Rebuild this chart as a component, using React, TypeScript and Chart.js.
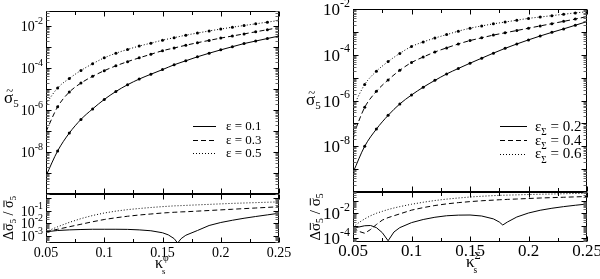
import React, { useEffect, useRef } from "react";
import { Chart, registerables } from "chart.js";
Chart.register(...registerables);

const FONT = '"Liberation Serif", "Times New Roman", serif';
const W = 600;
const H = 279;

// ---------- tick labels ----------
const X_TICKS = [0.05, 0.1, 0.15, 0.2, 0.25];
const X_TICK_TEXT = ["0.05", "0.1", "0.15", "0.2", "0.25"];
const X_TICK_ALL = [0.05, 0.075, 0.1, 0.125, 0.15, 0.175, 0.2, 0.225, 0.25];
const LT_Y_LABEL_EXP = [-2, -4, -6, -8];
const LB_Y_LABEL_EXP = [-1, -2, -3];
const RT_Y_LABEL_EXP = [-2, -4, -6, -8];
const RB_Y_LABEL_EXP = [-2, -4];

// ---------- data (values read as log10 decades from the log axes) ----------
const X_TOP = [0.05, 0.06, 0.07, 0.08, 0.09, 0.1, 0.11, 0.12, 0.13, 0.14, 0.15, 0.16, 0.17, 0.18, 0.19, 0.2, 0.21, 0.22, 0.23, 0.24, 0.25];

// left top: sigma5 for eps = 0.1, 0.3, 0.5
const LT_EPS01 = [-9.14, -7.95, -7.1, -6.45, -5.95, -5.5, -5.12, -4.8, -4.53, -4.3, -4.08, -3.85, -3.66, -3.47, -3.3, -3.14, -2.99, -2.84, -2.72, -2.6, -2.48];
const LT_EPS03 = [-7.03, -5.85, -5.15, -4.72, -4.4, -4.13, -3.9, -3.7, -3.52, -3.35, -3.18, -3.05, -2.92, -2.8, -2.69, -2.58, -2.48, -2.38, -2.28, -2.18, -2.08];
const LT_EPS05 = [-5.71, -4.95, -4.5, -4.12, -3.8, -3.52, -3.3, -3.12, -2.96, -2.82, -2.68, -2.56, -2.44, -2.34, -2.24, -2.15, -2.06, -1.98, -1.9, -1.82, -1.74];

// right top: sigma5 for eps_Sigma = 0.2, 0.4, 0.6
const RT_EPS02 = [-9.15, -8.0, -7.25, -6.65, -6.15, -5.76, -5.42, -5.12, -4.84, -4.6, -4.37, -4.15, -3.93, -3.72, -3.53, -3.35, -3.18, -3.02, -2.87, -2.71, -2.55];
const RT_EPS04 = [-7.55, -6.3, -5.6, -5.1, -4.68, -4.34, -4.1, -3.88, -3.7, -3.53, -3.38, -3.26, -3.14, -3.04, -2.94, -2.84, -2.74, -2.64, -2.54, -2.44, -2.33];
const RT_EPS06 = [-6.29, -5.3, -4.72, -4.3, -3.94, -3.64, -3.44, -3.27, -3.12, -2.97, -2.84, -2.74, -2.65, -2.57, -2.49, -2.41, -2.35, -2.29, -2.23, -2.17, -2.12];

// left bottom: relative deviation
const X_BL = [0.05, 0.06, 0.07, 0.08, 0.09, 0.1, 0.11, 0.12, 0.13, 0.14, 0.15, 0.155, 0.16, 0.163, 0.166, 0.17, 0.18, 0.19, 0.2, 0.21, 0.22, 0.23, 0.24, 0.25];
const LB_EPS01 = [-2.7, -2.6, -2.55, -2.52, -2.5, -2.5, -2.5, -2.51, -2.55, -2.62, -2.78, -2.95, -3.25, -3.6, -3.25, -2.98, -2.6, -2.2, -1.96, -1.78, -1.62, -1.48, -1.35, -1.22];
const LB_EPS03 = [-2.7, -2.5, -2.3, -2.1, -1.9, -1.72, -1.58, -1.46, -1.36, -1.28, -1.2, -1.17, -1.14, -1.13, -1.11, -1.1, -1.05, -1.0, -0.95, -0.9, -0.85, -0.8, -0.75, -0.7];
const LB_EPS05 = [-2.7, -2.3, -1.95, -1.65, -1.4, -1.2, -1.05, -0.93, -0.84, -0.76, -0.69, -0.66, -0.63, -0.62, -0.61, -0.59, -0.55, -0.51, -0.47, -0.43, -0.4, -0.37, -0.34, -0.31];

// right bottom: relative deviation
const X_BR = [0.05, 0.055, 0.06, 0.065, 0.07, 0.075, 0.08, 0.085, 0.09, 0.1, 0.11, 0.12, 0.13, 0.14, 0.15, 0.16, 0.17, 0.175, 0.178, 0.182, 0.19, 0.2, 0.21, 0.22, 0.23, 0.24, 0.25];
const RB_EPS02 = [-3.2, -3.1, -3.0, -2.98, -3.15, -3.55, -4.2, -3.5, -3.15, -2.75, -2.5, -2.32, -2.2, -2.15, -2.14, -2.22, -2.45, -2.7, -2.94, -2.7, -2.3, -1.98, -1.76, -1.6, -1.47, -1.36, -1.26];
const RB_EPS04 = [-3.15, -3.45, -3.6, -3.3, -2.9, -2.55, -2.35, -2.2, -2.05, -1.75, -1.55, -1.38, -1.25, -1.15, -1.07, -1.0, -0.95, -0.92, -0.91, -0.89, -0.86, -0.82, -0.78, -0.75, -0.72, -0.69, -0.66];
const RB_EPS06 = [-3.1, -2.75, -2.45, -2.2, -2.0, -1.85, -1.7, -1.58, -1.47, -1.28, -1.12, -0.98, -0.87, -0.78, -0.7, -0.64, -0.59, -0.57, -0.56, -0.55, -0.53, -0.5, -0.48, -0.46, -0.44, -0.42, -0.4];

const LEFT_LEGEND = ["0.1", "0.3", "0.5"];
const RIGHT_LEGEND = ["0.2", "0.4", "0.6"];

const DASH_SOLID: number[] = [];
const DASH_DASHED = [5, 3];
const DASH_DOTTED = [1, 2];
const DASHES = [DASH_SOLID, DASH_DASHED, DASH_DOTTED];

type Ctx = CanvasRenderingContext2D;

// ---------- drawing helpers ----------
function setFont(ctx: Ctx, size: number) {
  ctx.font = `${size}px ${FONT}`;
}

function drawPow10(ctx: Ctx, exp: number, xRight: number, yMid: number, fs: number, ss: number) {
  const e = String(exp);
  setFont(ctx, fs);
  const w1 = ctx.measureText("10").width;
  setFont(ctx, ss);
  const w2 = ctx.measureText(e).width;
  const x0 = xRight - w1 - w2;
  const base = yMid + fs * 0.36;
  ctx.textAlign = "left";
  ctx.textBaseline = "alphabetic";
  setFont(ctx, fs);
  ctx.fillText("10", x0, base);
  setFont(ctx, ss);
  ctx.fillText(e, x0 + w1, base - fs * 0.5);
}

function sigmaWidth(ctx: Ctx, fs: number) {
  setFont(ctx, fs);
  const w = ctx.measureText("σ").width;
  setFont(ctx, fs * 0.65);
  return w + ctx.measureText("5").width;
}

function drawSigma(ctx: Ctx, x: number, base: number, fs: number, mark: "tilde" | "bar") {
  ctx.textAlign = "left";
  ctx.textBaseline = "alphabetic";
  setFont(ctx, fs);
  ctx.fillText("σ", x, base);
  const w = ctx.measureText("σ").width;
  if (mark === "tilde") {
    setFont(ctx, fs * 0.75);
    ctx.textAlign = "center";
    ctx.fillText("~", x + w / 2 + 1, base - fs * 0.5);
    ctx.textAlign = "left";
  } else {
    ctx.fillRect(x + 1, base - fs * 0.68, w - 1, 1);
  }
  setFont(ctx, fs * 0.65);
  ctx.fillText("5", x + w, base + fs * 0.22);
  return w + ctx.measureText("5").width;
}

function drawRotatedLabel(ctx: Ctx, cx: number, cy: number, fs: number) {
  ctx.save();
  ctx.translate(cx, cy);
  ctx.rotate(-Math.PI / 2);
  setFont(ctx, fs);
  const wD = ctx.measureText("Δ").width;
  const wS = ctx.measureText(" / ").width;
  const ws = sigmaWidth(ctx, fs);
  const total = wD + ws + wS + ws;
  let x = -total / 2;
  const base = 0;
  setFont(ctx, fs);
  ctx.textAlign = "left";
  ctx.textBaseline = "alphabetic";
  ctx.fillText("Δ", x, base);
  x += wD;
  x += drawSigma(ctx, x, base, fs, "bar");
  setFont(ctx, fs);
  ctx.fillText(" / ", x, base);
  x += wS;
  drawSigma(ctx, x, base, fs, "bar");
  ctx.restore();
}

function drawKappa(ctx: Ctx, x: number, base: number, fs: number, sup: string) {
  ctx.textAlign = "left";
  ctx.textBaseline = "alphabetic";
  setFont(ctx, fs);
  ctx.fillText("κ", x, base);
  const w = ctx.measureText("κ").width;
  setFont(ctx, fs * 0.62);
  ctx.fillText(sup, x + w, base - fs * 0.45);
  setFont(ctx, fs * 0.55);
  ctx.fillText("s", x + w - 1, base + fs * 0.35);
}

function drawLegend(ctx: Ctx, labels: string[], x0: number, x1: number, tx: number, ys: number[], fs: number, sub: boolean) {
  labels.forEach((lab, i) => {
    const y = Math.round(ys[i]) + 0.5;
    ctx.save();
    ctx.setLineDash(DASHES[i]);
    ctx.lineWidth = 1;
    ctx.beginPath();
    ctx.moveTo(x0, y);
    ctx.lineTo(x1, y);
    ctx.stroke();
    ctx.restore();
    ctx.textAlign = "left";
    ctx.textBaseline = "alphabetic";
    const base = ys[i] + fs * 0.33;
    setFont(ctx, fs);
    ctx.fillText("ε", tx, base);
    let x = tx + ctx.measureText("ε").width;
    if (sub) {
      setFont(ctx, fs * 0.62);
      ctx.fillText("Σ", x, base + fs * 0.3);
      x += ctx.measureText("Σ").width;
    }
    setFont(ctx, fs);
    ctx.fillText(" = " + lab, x, base);
  });
}

type Spec = {
  area: { l: number; t: number; r: number; b: number };
  yMin: number;
  yMax: number;
  xs: number[];
  series: number[][];
  points: boolean;
  smooth: boolean;
  yLabels: number[];
  fs: number;
  ss: number;
  xLabels: boolean;
  extra: (ctx: Ctx) => void;
};

function makeDecor(spec: Spec) {
  return {
    id: "decor",
    afterDatasetsDraw(chart: any) {
      const ctx: Ctx = chart.ctx;
      const a = chart.chartArea;
      const xs = chart.scales.x;
      const ys = chart.scales.y;
      ctx.save();
      ctx.strokeStyle = "#000";
      ctx.fillStyle = "#000";
      ctx.lineWidth = 1;
      ctx.setLineDash([]);
      const L = Math.round(a.left) + 0.5;
      const R = Math.round(a.right) - 0.5;
      const T = Math.round(a.top) + 0.5;
      const B = Math.round(a.bottom) - 0.5;
      ctx.strokeRect(L, T, R - L, B - T);

      X_TICK_ALL.forEach((v, i) => {
        const px = Math.round(xs.getPixelForValue(v)) + 0.5;
        const len = i % 2 === 0 ? 5 : 3.5;
        ctx.beginPath();
        ctx.moveTo(px, B);
        ctx.lineTo(px, B - len);
        ctx.moveTo(px, T);
        ctx.lineTo(px, T + len);
        ctx.stroke();
      });

      const lo = Math.floor(Math.log10(spec.yMin));
      const hi = Math.ceil(Math.log10(spec.yMax));
      for (let n = lo; n <= hi; n++) {
        for (let k = 1; k <= 9; k++) {
          const v = k * Math.pow(10, n);
          if (v < spec.yMin || v > spec.yMax) continue;
          const py = Math.round(ys.getPixelForValue(v)) + 0.5;
          const len = k === 1 ? 5 : 3;
          ctx.strokeStyle = k === 1 ? "#000" : "#666";
          ctx.beginPath();
          ctx.moveTo(L, py);
          ctx.lineTo(L + len, py);
          ctx.moveTo(R, py);
          ctx.lineTo(R - len, py);
          ctx.stroke();
        }
      }
      ctx.strokeStyle = "#000";

      spec.yLabels.forEach((e) => {
        drawPow10(ctx, e, a.left - 3, ys.getPixelForValue(Math.pow(10, e)), spec.fs, spec.ss);
      });

      if (spec.xLabels) {
        setFont(ctx, spec.fs);
        ctx.textAlign = "center";
        ctx.textBaseline = "middle";
        X_TICKS.forEach((v, i) => {
          ctx.fillText(X_TICK_TEXT[i], xs.getPixelForValue(v), a.bottom + 10);
        });
      }

      spec.extra(ctx);
      ctx.restore();
    },
  };
}

function buildConfig(spec: Spec): any {
  return {
    type: "line",
    data: {
      datasets: spec.series.map((vals, i) => ({
        data: spec.xs.map((x, j) => ({ x, y: Math.pow(10, vals[j]) })),
        borderColor: "#000",
        backgroundColor: "#000",
        borderWidth: 1,
        borderDash: DASHES[i],
        pointRadius: spec.points ? 1.5 : 0,
        pointBorderWidth: 0,
        pointBackgroundColor: "#000",
        cubicInterpolationMode: spec.smooth ? "monotone" : "default",
        tension: 0,
        fill: false,
      })),
    },
    options: {
      responsive: false,
      animation: false,
      devicePixelRatio: 1,
      events: [],
      layout: {
        padding: { left: spec.area.l, top: spec.area.t, right: W - spec.area.r, bottom: H - spec.area.b },
      },
      plugins: { legend: { display: false }, tooltip: { enabled: false } },
      scales: {
        x: { type: "linear", min: 0.05, max: 0.25, display: false },
        y: { type: "logarithmic", min: spec.yMin, max: spec.yMax, display: false },
      },
    },
    plugins: [makeDecor(spec)],
  };
}

const SPECS: Spec[] = [
  {
    area: { l: 46, t: 11, r: 279, b: 194 },
    yMin: 1e-10,
    yMax: Math.pow(10, -1.29),
    xs: X_TOP,
    series: [LT_EPS01, LT_EPS03, LT_EPS05],
    points: true,
    smooth: true,
    yLabels: LT_Y_LABEL_EXP,
    fs: 14,
    ss: 10,
    xLabels: false,
    extra: (ctx) => {
      drawSigma(ctx, 4, 103, 17, "tilde");
      drawLegend(ctx, LEFT_LEGEND, 193, 216, 226, [126, 139.5, 153], 13, false);
    },
  },
  {
    area: { l: 46, t: 194, r: 279, b: 243 },
    yMin: Math.pow(10, -3.6),
    yMax: Math.pow(10, 0.32),
    xs: X_BL,
    series: [LB_EPS01, LB_EPS03, LB_EPS05],
    points: false,
    smooth: false,
    yLabels: LB_Y_LABEL_EXP,
    fs: 14,
    ss: 10,
    xLabels: true,
    extra: (ctx) => {
      drawRotatedLabel(ctx, 13, 218, 14);
      drawKappa(ctx, 155, 268, 16, "φ");
    },
  },
  {
    area: { l: 353, t: 9, r: 587, b: 192 },
    yMin: 1e-10,
    yMax: 1e-2,
    xs: X_TOP,
    series: [RT_EPS02, RT_EPS04, RT_EPS06],
    points: true,
    smooth: true,
    yLabels: RT_Y_LABEL_EXP,
    fs: 17,
    ss: 12,
    xLabels: false,
    extra: (ctx) => {
      drawSigma(ctx, 306, 105, 17, "tilde");
      drawLegend(ctx, RIGHT_LEGEND, 500, 527, 535, [126, 140, 153.5], 15, true);
    },
  },
  {
    area: { l: 353, t: 192, r: 587, b: 242 },
    yMin: Math.pow(10, -4.3),
    yMax: Math.pow(10, -0.3),
    xs: X_BR,
    series: [RB_EPS02, RB_EPS04, RB_EPS06],
    points: false,
    smooth: false,
    yLabels: RB_Y_LABEL_EXP,
    fs: 17,
    ss: 12,
    xLabels: true,
    extra: (ctx) => {
      drawRotatedLabel(ctx, 320, 217, 15);
      drawKappa(ctx, 466, 267, 17, "Σ");
    },
  },
];

function PanelCanvas({ spec }: { spec: Spec }) {
  const ref = useRef<HTMLCanvasElement>(null);
  useEffect(() => {
    const c = ref.current;
    if (!c) return;
    const chart = new Chart(c, buildConfig(spec));
    return () => chart.destroy();
  }, [spec]);
  return (
    <canvas
      ref={ref}
      width={W}
      height={H}
      style={{ position: "absolute", left: 0, top: 0, width: W, height: H }}
    />
  );
}

export default function App() {
  return (
    <div style={{ position: "fixed", left: 0, top: 0, width: W, height: H, background: "#fff", overflow: "hidden" }}>
      {SPECS.map((s, i) => (
        <PanelCanvas key={i} spec={s} />
      ))}
    </div>
  );
}
